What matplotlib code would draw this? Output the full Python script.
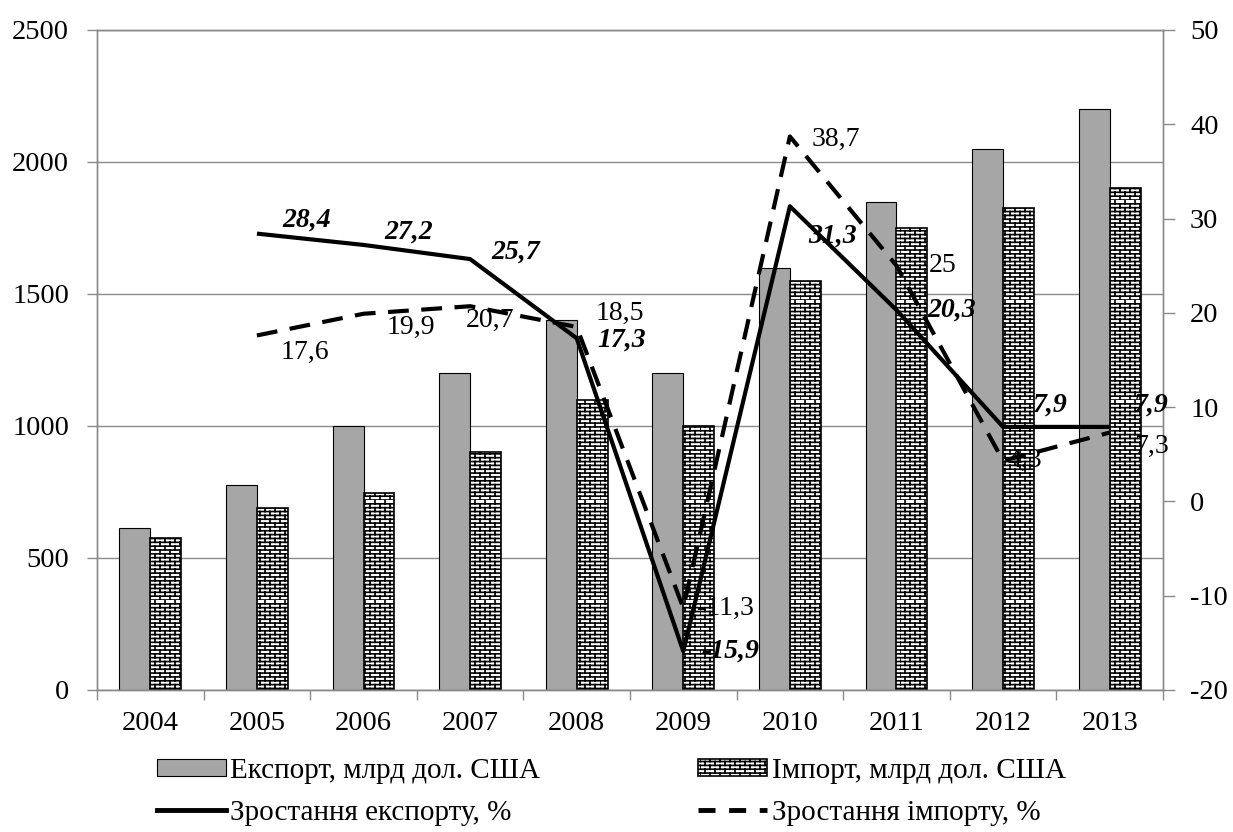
import numpy as np
import matplotlib
matplotlib.use("Agg")
import matplotlib.pyplot as plt
import matplotlib.hatch as mhatch
from matplotlib.path import Path
from matplotlib.patches import Patch
from matplotlib.lines import Line2D

# ---------------- data ----------------
years = ["2004", "2005", "2006", "2007", "2008", "2009", "2010", "2011", "2012", "2013"]
export_bn = [615, 775, 1000, 1200, 1400, 1200, 1600, 1850, 2050, 2200]
import_bn = [575, 690, 745, 900, 1100, 1000, 1550, 1750, 1825, 1900]
growth_years = ["2005", "2006", "2007", "2008", "2009", "2010", "2011", "2012", "2013"]
export_growth = [28.4, 27.2, 25.7, 17.3, -15.9, 31.3, 20.3, 7.9, 7.9]
import_growth = [17.6, 19.9, 20.7, 18.5, -11.3, 38.7, 25, 4.3, 7.3]
export_growth_labels = ["28,4", "27,2", "25,7", "17,3", "-15,9", "31,3", "20,3", "7,9", "7,9"]
import_growth_labels = ["17,6", "19,9", "20,7", "18,5", "-11,3", "38,7", "25", "4,3", "7,3"]

legend_labels = ["Експорт, млрд дол. США", "Імпорт, млрд дол. США",
                 "Зростання експорту, %", "Зростання імпорту, %"]

# label offsets (pixels, x right / y up) - styling only
exp_off = [(50, 13), (45, 13), (46, 7), (45, -2), (47, 0), (43, -30), (55, 0), (47, 22), (42, 22)]
imp_off = [(48, -17), (47, -14), (20, -14), (43, 14), (42, 0), (46, -3), (46, 0), (22, 0), (42, -14)]


# ---------------- custom brick hatch ----------------
class BrickHatch(mhatch.HatchPatternBase):
    def __init__(self, hatch, density):
        self.rows = 26 if hatch.count('+') else 0
        self.cols = 10
        self.num_vertices = self.rows * 2 + self.rows * self.cols * 2

    def set_vertices_and_codes(self, vertices, codes):
        k = 0
        for i in range(self.rows):
            y0 = i / self.rows
            y1 = (i + 1) / self.rows
            vertices[k] = (0.0, y0)
            vertices[k + 1] = (1.0, y0)
            codes[k] = Path.MOVETO
            codes[k + 1] = Path.LINETO
            k += 2
            off = 0.5 * (i % 2)
            for j in range(self.cols):
                xx = (j + off) / self.cols
                vertices[k] = (xx, y0)
                vertices[k + 1] = (xx, y1)
                codes[k] = Path.MOVETO
                codes[k + 1] = Path.LINETO
                k += 2


mhatch._hatch_types = [BrickHatch]
plt.rcParams['hatch.linewidth'] = 1.2
plt.rcParams['font.family'] = ['Liberation Serif', 'DejaVu Serif']
plt.rcParams['axes.unicode_minus'] = False

GRID = "#8a8a8a"
TICK_FS = 20.5
LBL_FS = 20

fig = plt.figure(figsize=(12.33, 8.32), dpi=100)
ax = fig.add_axes([0.0787, 0.1707, 0.9432 - 0.0787, 0.964 - 0.1707])

x = np.arange(len(years))
w = 0.29
ax.bar(x - w / 2, export_bn, width=w, color="#a6a6a6", edgecolor="black", linewidth=0.8, zorder=2)
ax.bar(x + w / 2, import_bn, width=w, color="white", edgecolor="black", hatch="+",
       linewidth=1.2, zorder=2)

ax.set_xlim(-0.5, len(years) - 0.5)
ax.set_ylim(0, 2500)
ax.set_yticks(np.arange(0, 2501, 500))
ax.yaxis.grid(True, color=GRID, linewidth=1.0, zorder=0)
ax.set_axisbelow(True)
ax.set_xticks(x)
ax.set_xticklabels(years)
ax.set_xticks(np.arange(-0.5, len(years), 1.0), minor=True)
ax.tick_params(axis='x', which='major', length=0, pad=15, labelsize=TICK_FS)
ax.tick_params(axis='x', which='minor', length=7, color=GRID, width=1.0)
ax.tick_params(axis='y', length=7.2, color=GRID, width=1.0, labelsize=TICK_FS, pad=13)
for s in ax.spines.values():
    s.set_color(GRID)
    s.set_linewidth(1.0)

ax2 = ax.twinx()
ax2.set_ylim(-20, 50)
ax2.set_yticks(np.arange(-20, 51, 10))
ax2.tick_params(axis='y', length=8.5, color=GRID, width=1.0, labelsize=TICK_FS, pad=11)
for s in ax2.spines.values():
    s.set_color(GRID)
    s.set_linewidth(1.0)

gx = np.array([years.index(g) for g in growth_years])
ax2.plot(gx, export_growth, color="black", linewidth=3.0, solid_capstyle='butt', zorder=5)
ax2.plot(gx, import_growth, color="black", linewidth=3.0, dashes=(5, 3), zorder=5)

for xi, yi, lab, off in zip(gx, export_growth, export_growth_labels, exp_off):
    ax2.annotate(lab, (xi, yi), xytext=off, textcoords='offset pixels',
                 ha='center', va='center', fontsize=LBL_FS, fontweight='bold',
                 fontstyle='italic', zorder=6)
for xi, yi, lab, off in zip(gx, import_growth, import_growth_labels, imp_off):
    ax2.annotate(lab, (xi, yi), xytext=off, textcoords='offset pixels',
                 ha='center', va='center', fontsize=LBL_FS, zorder=6)

# legend
h_exp = Patch(facecolor="#a6a6a6", edgecolor="black", linewidth=0.8)
h_imp = Patch(facecolor="white", edgecolor="black", hatch="+", linewidth=1.2)
h_eg = Line2D([], [], color="black", linewidth=3.5)
h_ig = Line2D([], [], color="black", linewidth=3.5, dashes=(3.5, 2.8))

LEG_FS = 21
common = dict(loc='upper left', frameon=False, fontsize=LEG_FS, handlelength=2.35,
              handleheight=0.55, handletextpad=0.17, labelspacing=0.55,
              borderpad=0, borderaxespad=0)
fig.legend([h_exp, h_eg], legend_labels[0::2],
           bbox_to_anchor=(157 / 1233, 1 - 758 / 832), **common)
fig.legend([h_imp, h_ig], legend_labels[1::2],
           bbox_to_anchor=(698 / 1233, 1 - 758 / 832), **common)

fig.savefig("out.png", dpi=100)
